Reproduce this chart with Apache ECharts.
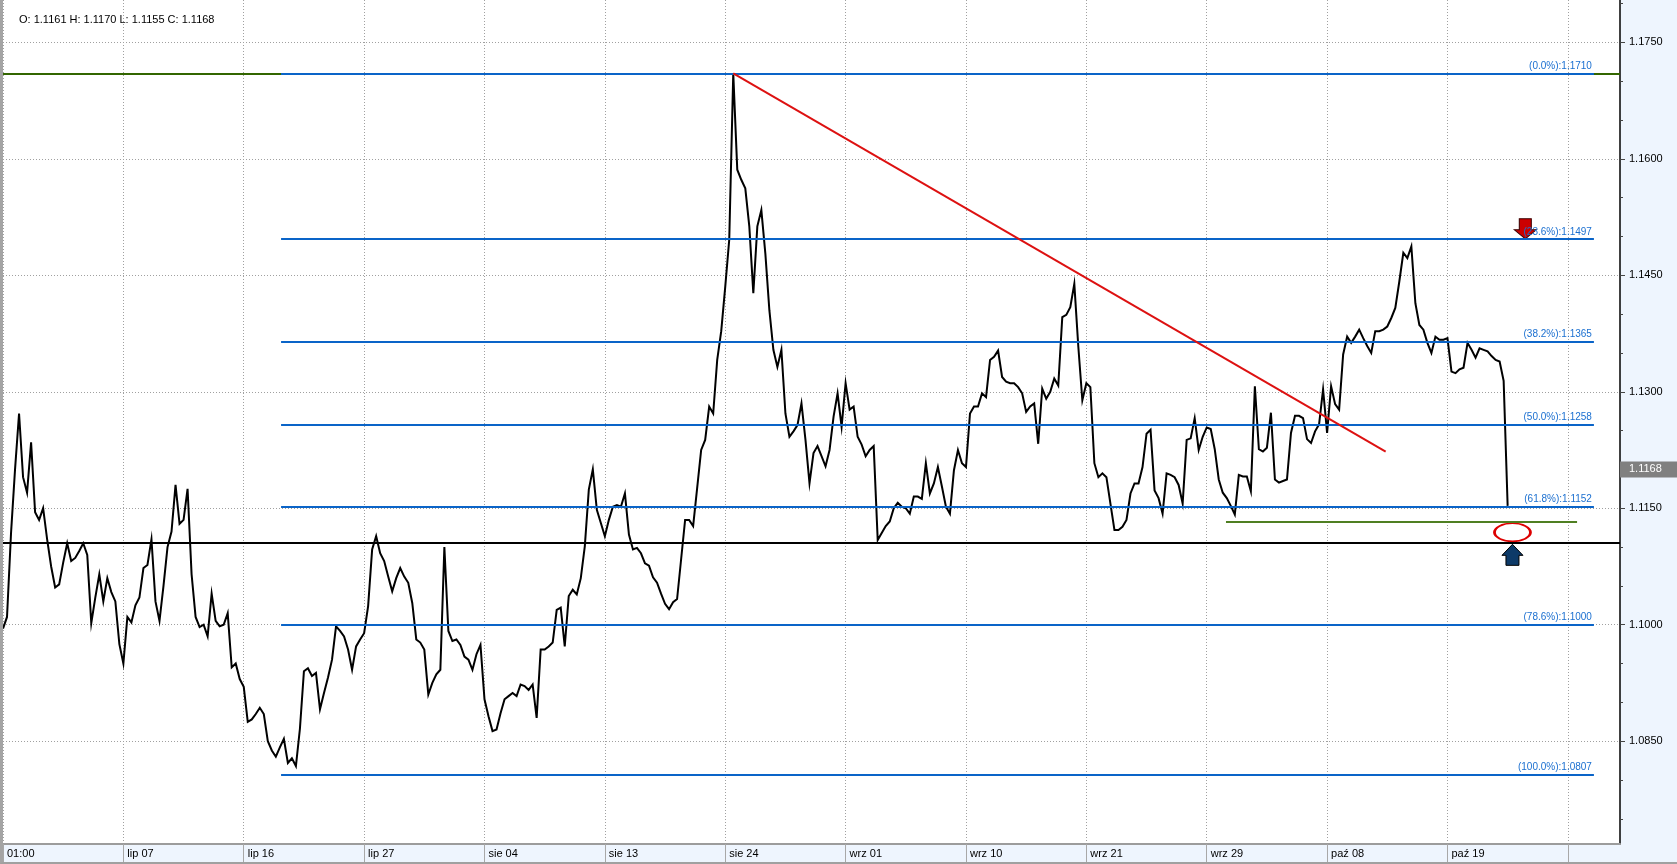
<!DOCTYPE html>
<html>
<head>
<meta charset="utf-8">
<title>EUR/USD H1</title>
<script src="https://cdn.jsdelivr.net/npm/echarts@6/dist/echarts.min.js"></script>
<style>
html, body { margin: 0; padding: 0; background: #eef5fe; }
#div-chart { width: 1674px; height: 862px; border-left: 3px solid #a4a4a4; border-bottom: 2px solid #a0a0a0; }
</style>
</head>
<body>
<div id="div-chart"></div>
<script>
// last bar: open, high, low, close
var LAST_BAR = [1.1161, 1.1170, 1.1155, 1.1168];

// bottom time labels, one every 30 bars
var X_LABELS = ['01:00', 'lip 07', 'lip 16', 'lip 27', 'sie 04', 'sie 13', 'sie 24',
    'wrz 01', 'wrz 10', 'wrz 21', 'wrz 29', 'paź 08', 'paź 19', ''];
var X_STEP = 30;
var X_MAX = 403;

// price scale
var Y_MIN = 1.07176;
var Y_MAX = 1.18045;
var Y_LABELS = [1.0850, 1.1000, 1.1150, 1.1300, 1.1450, 1.1600, 1.1750];
var Y_MINOR = [1.0750, 1.0800, 1.0850, 1.0900, 1.0950, 1.1000, 1.1050, 1.1100, 1.1150, 1.1200, 1.1250,
    1.1300, 1.1350, 1.1400, 1.1450, 1.1500, 1.1550, 1.1600, 1.1650, 1.1700, 1.1750, 1.1800];

// closes
var PRICE_JUL = [
    1.0995, 1.1010, 1.1118, 1.1200, 1.1272, 1.1190, 1.1170, 1.1235, 1.1145, 1.1135,
    1.1150, 1.1110, 1.1075, 1.1048, 1.1052, 1.1080, 1.1105, 1.1082, 1.1086, 1.1095,
    1.1105, 1.1090, 1.1002, 1.1035, 1.1065, 1.1030, 1.1060, 1.1042, 1.1030, 1.0975,
    1.0950, 1.1010, 1.1003, 1.1025, 1.1035, 1.1073, 1.1077, 1.1110, 1.1030, 1.1005,
    1.1050, 1.1100, 1.1120, 1.1180, 1.1130, 1.1135, 1.1175, 1.1065, 1.1010, 1.0997,
    1.1000, 1.0985, 1.1040, 1.1005, 1.0998, 1.1000, 1.1015, 1.0945, 1.0950, 1.0930,
    1.0920, 1.0875, 1.0878, 1.0885, 1.0893, 1.0885, 1.0850, 1.0838, 1.0830, 1.0842,
    1.0853, 1.0822, 1.0828, 1.0818, 1.0866, 1.0940, 1.0944, 1.0934, 1.0938, 1.0891,
    1.0912, 1.0932, 1.0955, 1.0998, 1.0992, 1.0985, 1.0968, 1.0942, 1.0972, 1.0981,
    1.0989, 1.1024, 1.1097, 1.1114, 1.1092, 1.1082, 1.1062, 1.1043, 1.1060, 1.1073,
    1.1062, 1.1054, 1.1028, 1.0981, 1.0977, 1.0968, 1.0910, 1.0925, 1.0936, 1.0942,
    1.1100, 1.0992, 1.0979, 1.0981, 1.0974, 1.0959, 1.0955, 1.0942, 1.0962, 1.0974
];
var PRICE_AUG = [
    1.0904, 1.0882, 1.0863, 1.0865, 1.0886, 1.0904, 1.0908, 1.0912, 1.0908, 1.0923,
    1.0921, 1.0916, 1.0923, 1.0880, 1.0968, 1.0968, 1.0972, 1.0977, 1.1019, 1.1022,
    1.0972, 1.1037, 1.1045, 1.1039, 1.1060, 1.1101, 1.1174, 1.1200, 1.1148, 1.1131,
    1.1114, 1.1135, 1.1152, 1.1154, 1.1152, 1.1169, 1.1116, 1.1097, 1.1099, 1.1092,
    1.1079, 1.1076, 1.1061, 1.1054, 1.1040, 1.1027, 1.1020, 1.1029, 1.1033, 1.1084,
    1.1135, 1.1135, 1.1127, 1.1176, 1.1225, 1.1238, 1.1281, 1.1272, 1.1341, 1.1378,
    1.1435, 1.1496, 1.1710, 1.1586, 1.1573, 1.1562, 1.1513, 1.1427, 1.1513, 1.1534,
    1.1478, 1.1405, 1.1354, 1.1332, 1.1354, 1.1272, 1.1242, 1.1249, 1.1257, 1.1285,
    1.1238, 1.1182, 1.1221, 1.1230, 1.1217, 1.1204, 1.1225, 1.1268, 1.1298, 1.1255
];
var PRICE_SEP = [
    1.1311, 1.1277, 1.1281, 1.1242, 1.1232, 1.1217, 1.1225, 1.1230, 1.1109, 1.1118,
    1.1127, 1.1133, 1.1150, 1.1157, 1.1152, 1.1150, 1.1143, 1.1165, 1.1165, 1.1162,
    1.1208, 1.1169, 1.1182, 1.1203, 1.1178, 1.1152, 1.1143, 1.1199, 1.1225, 1.1208,
    1.1203, 1.1272, 1.1281, 1.1281, 1.1298, 1.1293, 1.1341, 1.1345, 1.1353, 1.1319,
    1.1313, 1.1311, 1.1311, 1.1306, 1.1298, 1.1274, 1.1281, 1.1285, 1.1233, 1.1304,
    1.1291, 1.1300, 1.1317, 1.1308, 1.1396, 1.1399, 1.1409, 1.1439, 1.1358, 1.1289,
    1.1311, 1.1306, 1.1208, 1.1190, 1.1195, 1.1190, 1.1156, 1.1122, 1.1122, 1.1126,
    1.1135, 1.1169, 1.1182, 1.1182, 1.1203, 1.1246, 1.1251, 1.1173, 1.1163, 1.1143,
    1.1195, 1.1193, 1.1190, 1.1180, 1.1156, 1.1238, 1.1240, 1.1266, 1.1225, 1.1242,
    1.1254, 1.1252, 1.1226, 1.1187, 1.1170, 1.1163, 1.1153, 1.1142, 1.1193, 1.1191,
    1.1191, 1.1172, 1.1307, 1.1226, 1.1223, 1.1228, 1.1273, 1.1187, 1.1183, 1.1185,
    1.1187, 1.1247, 1.1269, 1.1269, 1.1266, 1.1239, 1.1234, 1.1249, 1.1258, 1.1303
];
var PRICE_OCT = [
    1.1247, 1.1307, 1.1284, 1.1277, 1.1348, 1.1371, 1.1363, 1.1371, 1.1380, 1.1369,
    1.1359, 1.1350, 1.1378, 1.1378, 1.1380, 1.1384, 1.1395, 1.1408, 1.1442, 1.1479,
    1.1472, 1.1487, 1.1414, 1.1386, 1.1380, 1.1363, 1.1350, 1.1371, 1.1367, 1.1367,
    1.1369, 1.1326, 1.1324, 1.1329, 1.1331, 1.1363, 1.1354, 1.1344, 1.1356, 1.1354,
    1.1352, 1.1346, 1.1341, 1.1339, 1.1314, 1.1153
];

// fibonacci retracement
var FIB_PCT = ['0.0', '23.6', '38.2', '50.0', '61.8', '78.6', '100.0'];
var FIB_LEVELS = [1.1710, 1.1497, 1.1365, 1.1258, 1.1152, 1.1000, 1.0807];
var FIB_FROM = 69.3;
var FIB_TO = 396.5;

// other drawn lines
var SUPPORT = 1.1105;
var GREEN_LEVEL = 1.1133;
var GREEN_FROM = 304.8;
var GREEN_TO = 392.3;
var TREND_FROM = [182.0, 1.1710];
var TREND_TO = [344.6, 1.1223];

// markers: ellipse, up arrow tip, down arrow tip
var ELLIPSE_AT = [376.2, 1.1119];
var UP_ARROW_AT = [376.2, 1.11035];
var DOWN_ARROW_AT = [379.4, 1.1497];

var FONT = 'Liberation Sans, Arial, sans-serif';

function buildPrices() {
    var all = PRICE_JUL.concat(PRICE_AUG, PRICE_SEP, PRICE_OCT);
    return all.map(function (v, i) { return [i, v]; });
}

function segment(from, to, color, label) {
    var first = {
        coord: from,
        lineStyle: { color: color, width: 2, type: 'solid' },
        label: { show: false }
    };
    if (label) {
        first.label = {
            show: true,
            position: 'insideEndTop',
            formatter: label,
            color: '#1a6fd0',
            fontSize: 10,
            fontFamily: FONT,
            distance: [2, 2]
        };
    }
    return [first, { coord: to }];
}

function buildLevelLines() {
    var lines = [];
    lines.push(segment([0, FIB_LEVELS[0]], [X_MAX, FIB_LEVELS[0]], '#336600'));
    lines.push(segment([0, SUPPORT], [X_MAX, SUPPORT], '#000000'));
    lines.push(segment([GREEN_FROM, GREEN_LEVEL], [GREEN_TO, GREEN_LEVEL], '#4f7f22'));
    for (var k = 0; k < FIB_LEVELS.length; k++) {
        var txt = '(' + FIB_PCT[k] + '%):' + FIB_LEVELS[k].toFixed(4);
        lines.push(segment([FIB_FROM, FIB_LEVELS[k]], [FIB_TO, FIB_LEVELS[k]], '#0a64c8', txt));
    }
    lines.push(segment(TREND_FROM, TREND_TO, '#dd1111'));
    return lines;
}

function xTickValues() {
    return X_LABELS.map(function (_, k) { return k * X_STEP; });
}

function initChart() {
    var chart = echarts.init(document.getElementById('div-chart'));
    var option = {
        animation: false,
        backgroundColor: '#eef5fe',
        title: {
            text: 'O: ' + LAST_BAR[0].toFixed(4) + ' H: ' + LAST_BAR[1].toFixed(4) +
                ' L: ' + LAST_BAR[2].toFixed(4) + ' C: ' + LAST_BAR[3].toFixed(4),
            left: 11,
            top: 9,
            textStyle: { fontSize: 11, fontWeight: 'normal', color: '#000', fontFamily: FONT }
        },
        grid: {
            left: 0, right: 57, top: 0, bottom: 18,
            show: true, backgroundColor: '#ffffff', borderWidth: 0
        },
        xAxis: {
            type: 'value',
            min: 0,
            max: X_MAX,
            interval: X_STEP,
            axisLine: { show: true, lineStyle: { color: '#9c9c9c', width: 2 } },
            axisTick: { show: true, customValues: xTickValues(), length: 18, lineStyle: { color: '#a8a8a8' } },
            axisLabel: {
                customValues: xTickValues(),
                formatter: function (v) { return X_LABELS[Math.round(v / X_STEP)] || ''; },
                align: 'left',
                padding: [0, 0, 0, 4],
                margin: 4,
                color: '#000',
                fontSize: 11,
                fontFamily: FONT
            },
            splitLine: { show: true, lineStyle: { type: [1, 2], color: '#a0a0a0' } }
        },
        yAxis: [{
            type: 'value',
            position: 'right',
            min: Y_MIN,
            max: Y_MAX,
            axisLine: { show: true, onZero: false, lineStyle: { color: '#000', width: 1.5 } },
            axisTick: { show: true, customValues: Y_LABELS, length: 5, lineStyle: { color: '#444' } },
            axisLabel: {
                customValues: Y_LABELS,
                formatter: function (v) { return v.toFixed(4); },
                margin: 9,
                color: '#000',
                fontSize: 11,
                fontFamily: FONT
            },
            splitLine: { show: true, lineStyle: { type: [1, 2], color: '#a0a0a0' } }
        }, {
            type: 'value',
            position: 'right',
            min: Y_MIN,
            max: Y_MAX,
            axisLine: { show: false, onZero: false },
            axisTick: { show: true, customValues: Y_MINOR, length: 3, lineStyle: { color: '#444' } },
            axisLabel: { show: false },
            splitLine: { show: false }
        }],
        series: [{
            name: 'levels',
            type: 'line',
            data: [],
            z: 2,
            silent: true,
            markLine: {
                symbol: 'none',
                silent: true,
                animation: false,
                label: { show: false },
                data: buildLevelLines()
            }
        }, {
            name: 'EURUSD',
            type: 'line',
            data: buildPrices(),
            z: 3,
            symbol: 'none',
            showSymbol: false,
            lineStyle: { color: '#000', width: 2, join: 'miter' },
            markLine: {
                symbol: 'none',
                silent: true,
                animation: false,
                lineStyle: { color: 'rgba(0,0,0,0)', width: 0 },
                label: {
                    show: true,
                    position: 'end',
                    distance: 0,
                    formatter: LAST_BAR[3].toFixed(4),
                    backgroundColor: '#808080',
                    color: '#fff',
                    fontSize: 11,
                    fontFamily: FONT,
                    padding: [3, 16, 2, 9]
                },
                data: [{ yAxis: LAST_BAR[3] }]
            }
        }, {
            name: 'marks',
            type: 'scatter',
            z: 4,
            silent: true,
            data: [{
                value: ELLIPSE_AT,
                symbol: 'circle',
                symbolSize: [36, 18],
                itemStyle: { color: 'rgba(0,0,0,0)', borderColor: '#dd0000', borderWidth: 2, opacity: 1 }
            }, {
                value: UP_ARROW_AT,
                symbol: 'path://M10.5,0 L21,11 L17,11 L17,21 L4,21 L4,11 L0,11 Z',
                symbolSize: [21, 21],
                symbolOffset: [0, 10.5],
                itemStyle: { color: '#0d3a68', borderColor: '#000', borderWidth: 1, opacity: 1 }
            }, {
                value: DOWN_ARROW_AT,
                symbol: 'path://M5,0 L17,0 L17,11 L22,11 L11,20 L0,11 L5,11 Z',
                symbolSize: [22, 20],
                symbolOffset: [0, -10],
                itemStyle: { color: '#cc0000', borderColor: '#3a0000', borderWidth: 1, opacity: 1 }
            }]
        }]
    };
    chart.setOption(option);
}

initChart();
</script>
</body>
</html>
